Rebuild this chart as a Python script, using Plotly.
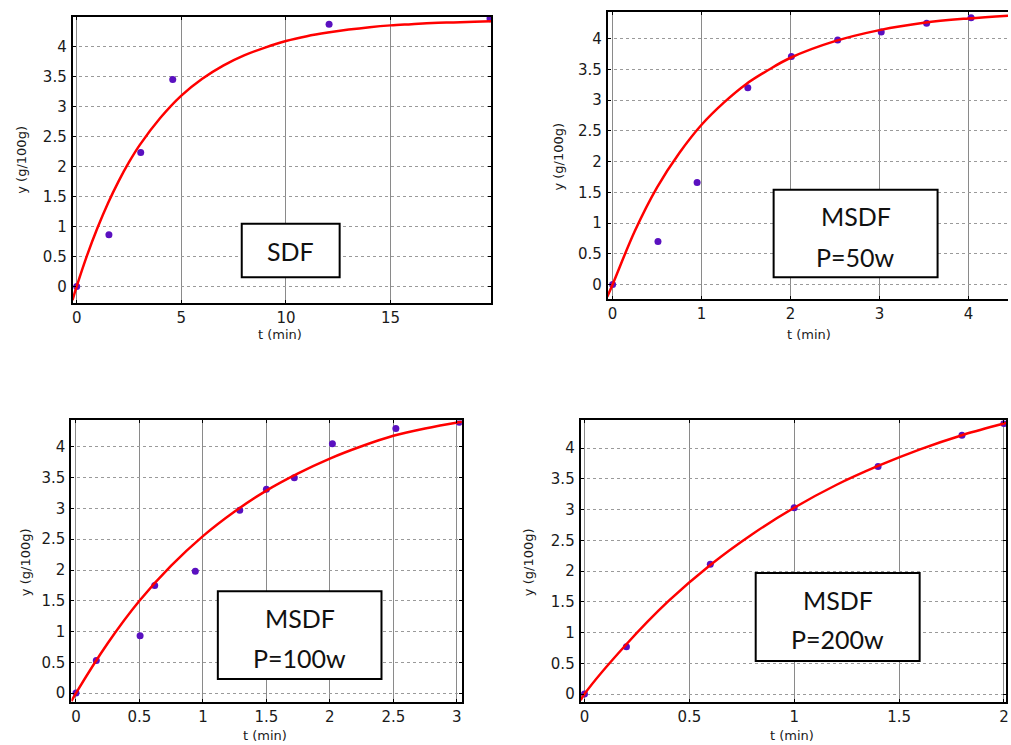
import plotly.graph_objects as go

W, H = 1011, 745

# ---- measured data (t in min, y in g/100g) ----
sdf_t = [0.0, 1.54, 3.06, 4.59, 12.06, 19.75]
sdf_y = [0.0, 0.86, 2.23, 3.45, 4.37, 4.46]
sdf_fit_t = [-0.2, 0, 0.5, 1, 1.5, 2, 2.5, 3, 4, 5, 6, 7, 8, 9, 10, 11, 12, 13, 14, 15, 16, 17, 18, 19, 19.8]
sdf_fit_y = [-0.23, 0.0, 0.52, 0.98, 1.39, 1.75, 2.07, 2.35, 2.81, 3.18, 3.46, 3.68, 3.85, 3.98, 4.09,
             4.17, 4.23, 4.28, 4.32, 4.35, 4.37, 4.39, 4.40, 4.41, 4.42]

p50_t = [0.0, 0.51, 0.95, 1.52, 2.01, 2.53, 3.02, 3.53, 4.03]
p50_y = [0.0, 0.70, 1.66, 3.20, 3.71, 3.98, 4.11, 4.25, 4.34]
p50_fit_t = [-0.06, 0, 0.25, 0.5, 0.75, 1.0, 1.25, 1.5, 1.75, 2.0, 2.5, 3.0, 3.5, 4.0, 4.5]
p50_fit_y = [-0.2, 0.0, 0.87, 1.58, 2.14, 2.60, 2.96, 3.26, 3.49, 3.69, 3.96, 4.14, 4.26, 4.33, 4.38]

p100_t = [0.0, 0.16, 0.505, 0.62, 0.94, 1.29, 1.50, 1.72, 2.02, 2.52, 3.02]
p100_y = [0.0, 0.53, 0.93, 1.75, 1.98, 2.97, 3.31, 3.50, 4.05, 4.30, 4.40]
p100_fit_t = [-0.036, 0, 0.25, 0.5, 0.75, 1.0, 1.25, 1.5, 1.75, 2.0, 2.25, 2.5, 2.75, 3.04]
p100_fit_y = [-0.13, 0.0, 0.81, 1.50, 2.07, 2.55, 2.95, 3.29, 3.57, 3.81, 4.01, 4.18, 4.30, 4.41]

p200_t = [0.0, 0.2, 0.6, 1.0, 1.4, 1.8, 2.0]
p200_y = [0.0, 0.77, 2.11, 3.03, 3.70, 4.21, 4.40]
p200_fit_t = [-0.018, 0, 0.2, 0.4, 0.6, 0.8, 1.0, 1.2, 1.4, 1.6, 1.8, 2.0, 2.01]
p200_fit_y = [-0.1, 0.0, 0.81, 1.51, 2.10, 2.60, 3.03, 3.40, 3.71, 3.98, 4.21, 4.40, 4.41]

labels = [["SDF"], ["MSDF", "P=50w"], ["MSDF", "P=100w"], ["MSDF", "P=200w"]]
x_title = "t (min)"
y_title = "y (g/100g)"

# ---- layout geometry (pixels) ----
def px(x):
    return x / W

def py(y):
    return 1 - y / H

panels = [
    dict(t=sdf_t, y=sdf_y, ft=sdf_fit_t, fy=sdf_fit_y,
         box=(72, 17, 492, 303), xr=[-0.19, 19.8], yr=[-0.27, 4.49], dx=5, right=True,
         xt=(280, 335), yt=(21, 160),
         lbox=(241.7, 224, 340, 277.7), ltext=[(290.5, 251)]),
    dict(t=p50_t, y=p50_y, ft=p50_fit_t, fy=p50_fit_y,
         box=(609.3, 12.3, 1011, 299), xr=[-0.053, 4.445], yr=[-0.23, 4.43], dx=1, right=False,
         xt=(811, 335), yt=(560, 157),
         lbox=(775.7, 190, 940.3, 277.7), ltext=[(858, 216.7), (858, 257.7)]),
    dict(t=p100_t, y=p100_y, ft=p100_fit_t, fy=p100_fit_y,
         box=(70.7, 421, 462.7, 703.3), xr=[-0.036, 3.04], yr=[-0.15, 4.43], dx=0.5, right=True,
         xt=(265, 736), yt=(24, 563),
         lbox=(217.7, 592, 382, 680), ltext=[(300, 618.7), (300, 658.7)]),
    dict(t=p200_t, y=p200_y, ft=p200_fit_t, fy=p200_fit_y,
         box=(582, 421, 1009, 703.3), xr=[-0.018, 2.01], yr=[-0.135, 4.45], dx=0.5, right=True,
         xt=(794, 736), yt=(529, 563),
         lbox=(757.7, 573.7, 922.3, 662), ltext=[(840, 600.7), (840, 640)]),
]

fig = go.Figure()
tick_font = dict(family="DejaVu Sans", size=15, color="#1a1a1a")
title_font = dict(family="DejaVu Sans", size=13, color="#1a1a1a")
box_font = dict(family="Lato", size=25, color="#111111")

annotations = []
shapes = []

for i, p in enumerate(panels, start=1):
    xa = "x" if i == 1 else f"x{i}"
    ya = "y" if i == 1 else f"y{i}"
    x0, y0, x1, y1 = p["box"]

    fig.add_trace(go.Scatter(
        x=p["t"], y=p["y"], mode="markers", xaxis=xa, yaxis=ya,
        marker=dict(color="#5a10c0", size=7, line=dict(width=0)), showlegend=False))
    fig.add_trace(go.Scatter(
        x=p["ft"], y=p["fy"], mode="lines", xaxis=xa, yaxis=ya, line_shape="spline",
        line=dict(color="#ff0000", width=2.5), showlegend=False))

    xkey = "xaxis" if i == 1 else f"xaxis{i}"
    ykey = "yaxis" if i == 1 else f"yaxis{i}"
    fig.layout[xkey] = dict(
        domain=[px(x0), min(px(x1), 1.0)], range=p["xr"], anchor=ya,
        dtick=p["dx"], tick0=0, showgrid=True, gridcolor="#8a8a8a", gridwidth=1, griddash="solid",
        zeroline=False, showline=True, linecolor="black", linewidth=2, mirror="allticks",
        ticks="inside", ticklen=3, tickcolor="black", tickfont=tick_font, ticklabelstandoff=0,
        ticklabeloverflow="allow")
    fig.layout[ykey] = dict(
        domain=[py(y1), py(y0)], range=p["yr"], anchor=xa,
        dtick=0.5, tick0=0, showgrid=True, gridcolor="#9a9a9a", gridwidth=1, griddash="dot",
        zeroline=False, showline=True, linecolor="black", linewidth=2,
        mirror="allticks" if p["right"] else False,
        ticks="inside", ticklen=3, tickcolor="black", tickfont=tick_font, ticklabelstandoff=1)

    # axis titles
    annotations.append(dict(text=x_title, x=px(p["xt"][0]), y=py(p["xt"][1]), xref="paper", yref="paper",
                            showarrow=False, font=title_font, xanchor="center", yanchor="middle"))
    annotations.append(dict(text=y_title, x=px(p["yt"][0]), y=py(p["yt"][1]), xref="paper", yref="paper",
                            showarrow=False, font=title_font, textangle=-90,
                            xanchor="center", yanchor="middle"))

    # condition label box
    bx0, by0, bx1, by1 = p["lbox"]
    shapes.append(dict(type="rect", xref="paper", yref="paper",
                       x0=px(bx0), x1=px(bx1), y0=py(by1), y1=py(by0),
                       line=dict(color="black", width=2), fillcolor="white", layer="above"))
    for txt, (tx, ty) in zip(labels[i - 1], p["ltext"]):
        annotations.append(dict(text=txt, x=px(tx), y=py(ty), xref="paper", yref="paper",
                                showarrow=False, font=box_font, xanchor="center", yanchor="middle"))

fig.update_layout(
    width=W, height=H, margin=dict(l=0, r=0, t=0, b=0),
    paper_bgcolor="white", plot_bgcolor="white",
    annotations=annotations, shapes=shapes, showlegend=False)

fig.write_html("out.html")
